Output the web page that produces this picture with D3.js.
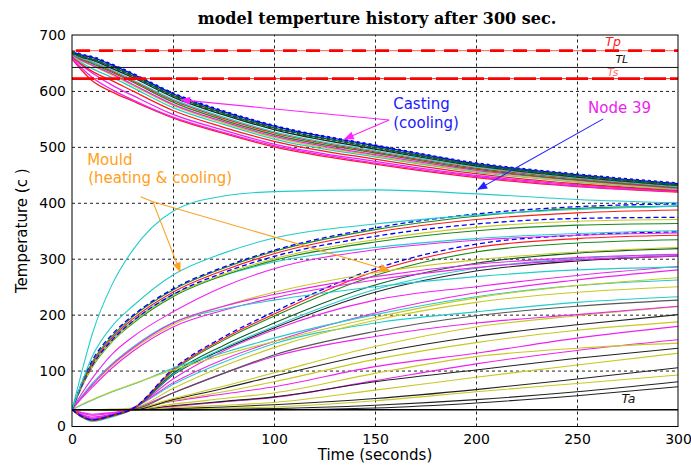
<!DOCTYPE html>
<html>
<head>
<meta charset="utf-8">
<title>model temperture history</title>
<style>
  body { margin: 0; background: #fff; }
</style>
<script src="https://d3js.org/d3.v7.min.js"></script>
</head>
<body>
<div id="chart"></div>
<script>
// ******* Data *******
const timeS = [0, 5, 10, 20, 30, 50, 75, 100, 150, 200, 250, 300];

const xTicks = [0, 50, 100, 150, 200, 250, 300];
const yTicks = [0, 100, 200, 300, 400, 500, 600, 700];

// casting nodes (cooling)
const castingTemps = [
  [670, 664, 660, 646, 630, 595, 563, 537, 502, 470, 450, 434],
  [669, 662, 657, 643, 627, 592, 560, 534, 499, 468, 448, 432],
  [668, 660, 655, 640, 624, 589, 557, 531, 496, 466, 446, 431],
  [667, 658, 652, 637, 620, 585, 553, 527, 493, 464, 444, 429],
  [667, 657, 651, 635, 618, 583, 551, 525, 491, 462, 443, 428],
  [666, 656, 649, 633, 616, 580, 548, 522, 489, 460, 441, 427],
  [665, 654, 646, 630, 612, 576, 545, 519, 486, 458, 440, 426],
  [665, 653, 645, 628, 610, 574, 543, 517, 484, 456, 438, 425],
  [664, 650, 640, 624, 606, 570, 540, 514, 482, 455, 437, 424],
  [662, 647, 635, 618, 600, 565, 535, 510, 478, 452, 434, 422],
  [660, 645, 632, 610, 592, 558, 530, 505, 474, 449, 432, 421],
  [658, 640, 624, 602, 584, 553, 526, 502, 471, 447, 430, 420],
  [657, 636, 618, 598, 582, 552, 524, 500, 469, 445, 429, 419]
];

// mould nodes (heating & cooling), first one is node 39
const mouldTemps = [
  [30, 100, 165, 255, 315, 385, 412, 420, 423, 416, 406, 400],
  [30, 80, 125, 180, 215, 271, 310, 337, 362, 378, 388, 394],
  [30, 80, 118, 165, 198, 246, 285, 315, 355, 380, 393, 398],
  [30, 78, 115, 162, 196, 244, 283, 313, 352, 376, 390, 394],
  [30, 76, 112, 159, 192, 240, 279, 309, 347, 370, 382, 387],
  [30, 74, 109, 155, 188, 236, 275, 304, 340, 362, 372, 374],
  [30, 73, 107, 153, 186, 234, 272, 300, 334, 356, 367, 370],
  [30, 72, 106, 152, 184, 232, 270, 297, 330, 350, 360, 363],
  [30, 74, 109, 156, 188, 236, 270, 294, 320, 336, 345, 350],
  [30, 60, 86, 130, 160, 205, 250, 282, 316, 333, 342, 346],
  [30, 53, 74, 111, 140, 185, 215, 236, 268, 290, 302, 308],
  [30, 55, 77, 113, 142, 186, 210, 226, 250, 268, 280, 285],
  [30, 53, 74, 109, 138, 182, 215, 240, 275, 298, 312, 320],
  [30, 51, 70, 105, 134, 178, 208, 230, 262, 284, 298, 305],
  [30, 40, 48, 63, 76, 101, 128, 152, 195, 230, 252, 266],
  [30, 39, 47, 62, 75, 104, 132, 158, 200, 232, 252, 262],
  [30, 18, 12, 20, 32, 103, 160, 205, 282, 326, 342, 348],
  [30, 17, 11, 19, 31, 101, 157, 201, 277, 320, 336, 342],
  [30, 17, 11, 19, 31, 99, 154, 197, 270, 312, 328, 334],
  [30, 18, 12, 20, 31, 95, 145, 185, 253, 292, 310, 318],
  [30, 16, 9, 17, 31, 93, 140, 179, 245, 283, 300, 307],
  [30, 18, 12, 20, 31, 92, 138, 176, 240, 278, 296, 305],
  [30, 20, 14, 22, 33, 85, 135, 173, 226, 250, 270, 286],
  [30, 21, 15, 22, 33, 78, 120, 152, 203, 239, 262, 280],
  [30, 30, 30, 31, 33, 68, 108, 141, 190, 222, 240, 250],
  [30, 19, 12, 20, 32, 75, 115, 148, 185, 205, 222, 232],
  [30, 30, 30, 30, 31, 60, 95, 128, 170, 198, 215, 226],
  [30, 22, 17, 22, 31, 60, 95, 125, 161, 185, 200, 215],
  [30, 30, 30, 30, 31, 50, 72, 96, 143, 178, 198, 214],
  [30, 30, 30, 30, 30, 48, 68, 90, 131, 161, 182, 200],
  [30, 30, 30, 30, 31, 46, 62, 80, 120, 150, 172, 187],
  [30, 24, 20, 24, 31, 45, 58, 71, 107, 131, 158, 179],
  [30, 30, 30, 30, 30, 40, 50, 60, 95, 125, 140, 149],
  [30, 30, 30, 30, 30, 37, 45, 53, 80, 101, 122, 140],
  [30, 25, 22, 25, 30, 36, 44, 52, 82, 112, 136, 155],
  [30, 30, 30, 30, 30, 34, 38, 43, 65, 88, 110, 131],
  [30, 30, 30, 30, 30, 32, 35, 39, 50, 66, 85, 105],
  [30, 30, 30, 30, 30, 31, 33, 35, 46, 62, 77, 92],
  [30, 30, 30, 30, 30, 30, 31, 32, 38, 48, 62, 80],
  [30, 30, 30, 30, 30, 30, 30, 30, 33, 42, 55, 71]
];

// reference temperatures
const refNames = ["Tp", "TL", "Ts", "Ta"];
const refTemps = [672, 642, 622, 30];

// ******* Styles (kept apart from the data) *******
const C = {
  b: "#0000ff", g: "#1a8a1a", r: "#ff1a1a", c: "#22cccc",
  m: "#ee22ee", y: "#c8c822", k: "#222222", dg: "#0b5e2a", gr: "#555555"
};
const castingColors = [C.b, C.dg, C.k, C.c, C.r, C.g, C.m, C.y, C.c, C.r, C.m, C.m, C.r];
const mouldColors = [
  C.c, C.c, C.b, C.g, C.r, C.b, C.y, C.g, C.c, C.m, C.m, C.c, C.y, C.m, C.y, C.c,
  C.b, C.r, C.g, C.dg, C.c, C.k,
  C.m, C.m, C.y, C.c, C.gr, C.m, C.y, C.k, C.y, C.m, C.y, C.k, C.m, C.y, C.k, C.y, C.k, C.k
];
const mouldDashed = [2, 5, 16];
const sans = "'DejaVu Sans', sans-serif";

// ******* Layout *******
const width = 691, height = 467;
const plot = { left: 72, right: 678, top: 35, bottom: 426.5 };

const x = d3.scaleLinear().domain([0, 300]).range([plot.left, plot.right]);
const y = d3.scaleLinear().domain([0, 700]).range([plot.bottom, plot.top]);

const svg = d3.select("#chart").append("svg")
    .attr("width", width)
    .attr("height", height)
    .style("font-family", sans);

const defs = svg.append("defs");
defs.append("clipPath").attr("id", "clip")
  .append("rect")
    .attr("x", plot.left).attr("y", plot.top)
    .attr("width", plot.right - plot.left)
    .attr("height", plot.bottom - plot.top);

// arrow heads
[["arrM", "#ff22ff"], ["arrB", "#2222ff"], ["arrO", "#ffa020"]].forEach(function(a) {
  defs.append("marker")
      .attr("id", a[0])
      .attr("viewBox", "0 -5 10 10")
      .attr("refX", 9).attr("refY", 0)
      .attr("markerWidth", 14).attr("markerHeight", 10)
      .attr("markerUnits", "userSpaceOnUse")
      .attr("orient", "auto")
    .append("path")
      .attr("d", "M0,-4L10,0L0,4Z")
      .attr("fill", a[1]);
});

// ******* Grid *******
svg.append("g")
    .attr("transform", `translate(0, ${plot.bottom})`)
    .call(d3.axisBottom(x).tickValues(xTicks.slice(1, -1))
      .tickSize(-(plot.bottom - plot.top)).tickFormat(""))
    .call(g => g.select(".domain").remove())
    .selectAll("line")
      .attr("stroke", "#222")
      .attr("stroke-dasharray", "3,3");

svg.append("g")
    .attr("transform", `translate(${plot.left}, 0)`)
    .call(d3.axisLeft(y).tickValues(yTicks.slice(1, -1))
      .tickSize(-(plot.right - plot.left)).tickFormat(""))
    .call(g => g.select(".domain").remove())
    .selectAll("line")
      .attr("stroke", "#222")
      .attr("stroke-dasharray", "3,3");

// ******* Curves *******
const line = d3.line()
    .x((d, i) => x(timeS[i]))
    .y(d => y(d))
    .curve(d3.curveMonotoneX);

const curves = svg.append("g").attr("clip-path", "url(#clip)");

// mould, drawn from the bottom up
mouldTemps.slice().reverse().forEach(function(vals, k) {
  const i = mouldTemps.length - 1 - k;
  curves.append("path")
      .attr("d", line(vals))
      .attr("fill", "none")
      .attr("stroke", mouldColors[i])
      .attr("stroke-width", mouldDashed.includes(i) ? 1.3 : 1.1)
      .attr("stroke-dasharray", mouldDashed.includes(i) ? "5,3" : null);
});

// casting
castingTemps.slice().reverse().forEach(function(vals, k) {
  const i = castingTemps.length - 1 - k;
  curves.append("path")
      .attr("d", line(vals))
      .attr("fill", "none")
      .attr("stroke", castingColors[i])
      .attr("stroke-width", 1.3);
});
// marker-like overlay on the top casting curves
[0, 1].forEach(function(i) {
  curves.append("path")
      .attr("d", line(castingTemps[i]))
      .attr("fill", "none")
      .attr("stroke", castingColors[i])
      .attr("stroke-width", 3)
      .attr("stroke-dasharray", "3,3");
});

// ******* Reference lines *******
const refG = svg.append("g");
function hline(temp, color, w, dash, x0) {
  refG.append("line")
      .attr("x1", x(x0 || 0)).attr("x2", x(300))
      .attr("y1", y(temp)).attr("y2", y(temp))
      .attr("stroke", color).attr("stroke-width", w)
      .attr("stroke-dasharray", dash);
}
hline(refTemps[0], "#ff6060", 1, null);
hline(refTemps[0], "#ff0000", 2.6, "14,9", 2);
hline(refTemps[1], "#111", 1, null);
hline(refTemps[2], "#ff3030", 1, null);
hline(refTemps[2], "#ff0000", 2.6, "22,4");
hline(refTemps[3], "#000", 1.4, null);

// label: [t position, pixel offset from line, colour, size]
const refLabelPos = [
  [264, -5, "#ff1a1a", 12.5],
  [269, -4, "#111", 11],
  [265, -2.5, "#ff7070", 11],
  [272, -7, "#111", 12.5]
];
refNames.forEach(function(n, i) {
  svg.append("text")
      .attr("x", x(refLabelPos[i][0]))
      .attr("y", y(refTemps[i]) + refLabelPos[i][1])
      .attr("font-size", refLabelPos[i][3])
      .attr("font-style", "italic")
      .attr("fill", refLabelPos[i][2])
      .text(n);
});

// ******* Frame *******
svg.append("rect")
    .attr("x", plot.left).attr("y", plot.top)
    .attr("width", plot.right - plot.left)
    .attr("height", plot.bottom - plot.top)
    .attr("fill", "none")
    .attr("stroke", "#000")
    .attr("stroke-width", 1);

// ******* Axes *******
svg.append("g")
    .attr("transform", `translate(0, ${plot.bottom})`)
    .call(d3.axisBottom(x).tickValues(xTicks).tickSize(0).tickPadding(8))
    .call(g => g.select(".domain").remove())
    .selectAll("text")
      .attr("font-family", sans)
      .attr("font-size", 14)
      .attr("fill", "#000");

svg.append("g")
    .attr("transform", `translate(${plot.left}, 0)`)
    .call(d3.axisLeft(y).tickValues(yTicks).tickSize(0).tickPadding(6))
    .call(g => g.select(".domain").remove())
    .selectAll("text")
      .attr("font-family", sans)
      .attr("font-size", 14)
      .attr("fill", "#000");

svg.append("text")
    .attr("x", (plot.left + plot.right) / 2)
    .attr("y", 460)
    .attr("text-anchor", "middle")
    .attr("font-size", 15)
    .text("Time (seconds)");

svg.append("text")
    .attr("transform", `translate(27, ${(plot.top + plot.bottom) / 2}) rotate(-90)`)
    .attr("text-anchor", "middle")
    .attr("font-size", 15)
    .text("Temperature (c )");

svg.append("text")
    .attr("x", 377)
    .attr("y", 24)
    .attr("text-anchor", "middle")
    .style("font-family", "'DejaVu Serif', 'Liberation Serif', serif")
    .attr("font-weight", "bold")
    .attr("font-size", 16)
    .text("model temperture history after 300 sec.");

// ******* Annotations (data units) *******
function arrow(from, to, color, marker) {
  svg.append("line")
      .attr("x1", x(from[0])).attr("y1", y(from[1]))
      .attr("x2", x(to[0])).attr("y2", y(to[1]))
      .attr("stroke", color).attr("stroke-width", 1.1)
      .attr("marker-end", marker ? `url(#${marker})` : null);
}

// casting
arrow([157, 548], [54, 584], "#ff22ff", "arrM");
arrow([157, 548], [135, 514], "#ff22ff", "arrM");
svg.append("text").attr("x", x(159)).attr("y", y(567))
    .attr("font-size", 15).attr("fill", "#1a1aff").text("Casting");
svg.append("text").attr("x", x(159)).attr("y", y(533))
    .attr("font-size", 15).attr("fill", "#1a1aff").text("(cooling)");

// node 39
arrow([263, 550], [201, 424], "#2222ff", "arrB");
svg.append("text").attr("x", x(255.5)).attr("y", y(561))
    .attr("font-size", 15).attr("fill", "#ee22ee").text("Node 39");

// mould
arrow([34, 411], [40, 402], "#ffa020", null);
arrow([40, 402], [53.5, 277], "#ffa020", "arrO");
arrow([40, 402], [157, 279], "#ffa020", "arrO");
svg.append("text").attr("x", x(7.5)).attr("y", y(468))
    .attr("font-size", 15).attr("fill", "#ffa020").text("Mould");
svg.append("text").attr("x", x(8)).attr("y", y(435))
    .attr("font-size", 15).attr("fill", "#ffa020").text("(heating & cooling)");
</script>
</body>
</html>
